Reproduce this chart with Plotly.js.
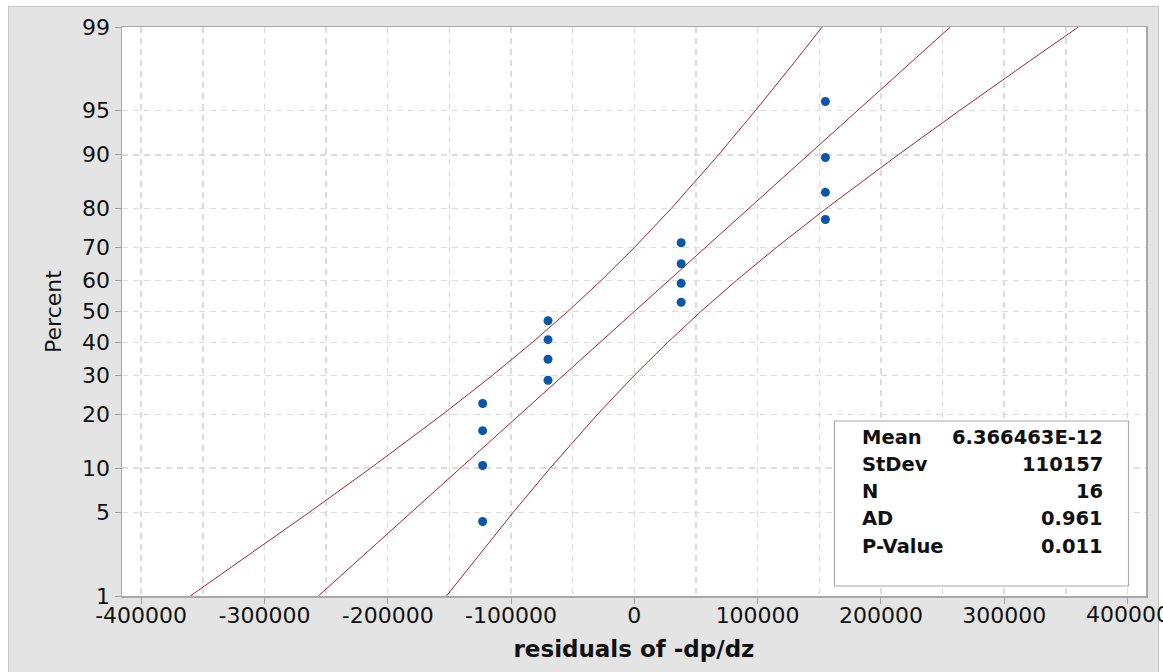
<!DOCTYPE html>
<html>
<head>
<meta charset="utf-8">
<script src="https://cdn.plot.ly/plotly-3.0.1.min.js"></script>
<style>
html,body{margin:0;padding:0;background:#ffffff;}
#frame{position:absolute;left:8px;top:6px;width:1149px;height:670px;background:#e4e4e4;border:1px solid #c6c6c6;border-bottom:none;}
#chart{position:absolute;left:0;top:0;width:1163px;height:672px;}
</style>
</head>
<body>
<div id="frame"></div>
<div id="chart"></div>
<script>
// ---- data ----
var residuals = [-123000,-123000,-123000,-123000,-70000,-70000,-70000,-70000,38000,38000,38000,38000,155000,155000,155000,155000];
var pointPercent = [4.3,10.4,16.5,22.6,28.7,34.8,40.9,47.0,53.0,59.1,65.2,71.3,77.4,83.5,89.6,95.7];

var curvePercent = [1,2,5,10,20,30,40,50,60,70,80,90,95,98,99];
var fitX   = [-256260,-226230,-181190,-141170,-92710,-57770,-27905,0,27905,57770,92710,141170,181190,226230,256260];
var leftCI = [-360170,-321400,-263990,-214010,-155520,-115340,-82740,-53980,-26930,200,29900,68330,98400,131060,152350];
var rightCI= [-152350,-131060,-98400,-68330,-29900,-200,26930,53980,82740,115340,155520,214010,263990,321400,360170];

var yTickPercent = [1,5,10,20,30,40,50,60,70,80,90,95,99];
var yTickText = ["1","5","10","20","30","40","50","60","70","80","90","95","99"];
var xTickVals = [-400000,-300000,-200000,-100000,0,100000,200000,300000,400000];
var xTickText = ["-400000","-300000","-200000","-100000","0","100000","200000","300000","400000"];

var statLabels = ["Mean","StDev","N","AD","P-Value"];
var statValues = ["6.366463E-12","110157","16","0.961","0.011"];

// ---- normal probability scale (inverse normal CDF, Acklam) ----
function probit(p){
  var a=[-3.969683028665376e+01,2.209460984245205e+02,-2.759285104469687e+02,1.383577518672690e+02,-3.066479806614716e+01,2.506628277459239e+00];
  var b=[-5.447609879822406e+01,1.615858368580409e+02,-1.556989798598866e+02,6.680131188771972e+01,-1.328068155288572e+01];
  var c=[-7.784894002430293e-03,-3.223964580411365e-01,-2.400758277161838e+00,-2.549732539343734e+00,4.374664141464968e+00,2.938163982698783e+00];
  var d=[7.784695709041462e-03,3.224671290700398e-01,2.445134137142996e+00,3.754408661907416e+00];
  var pl=0.02425, q, r;
  if(p<pl){q=Math.sqrt(-2*Math.log(p));return (((((c[0]*q+c[1])*q+c[2])*q+c[3])*q+c[4])*q+c[5])/((((d[0]*q+d[1])*q+d[2])*q+d[3])*q+1);}
  if(p>1-pl){q=Math.sqrt(-2*Math.log(1-p));return -(((((c[0]*q+c[1])*q+c[2])*q+c[3])*q+c[4])*q+c[5])/((((d[0]*q+d[1])*q+d[2])*q+d[3])*q+1);}
  q=p-0.5;r=q*q;
  return (((((a[0]*r+a[1])*r+a[2])*r+a[3])*r+a[4])*r+a[5])*q/(((((b[0]*r+b[1])*r+b[2])*r+b[3])*r+b[4])*r+1);
}
function z(arr){return arr.map(function(v){return probit(v/100);});}

var lineColor = "#a3262b";
var traces = [
  {x:leftCI, y:z(curvePercent), mode:"lines", line:{color:lineColor,width:1}, hoverinfo:"skip"},
  {x:fitX,   y:z(curvePercent), mode:"lines", line:{color:lineColor,width:1}, hoverinfo:"skip"},
  {x:rightCI,y:z(curvePercent), mode:"lines", line:{color:lineColor,width:1}, hoverinfo:"skip"},
  {x:residuals, y:z(pointPercent), mode:"markers", marker:{color:"#0a56a8",size:9}}
];

// pixel -> paper helpers (plot area 122..1146 x 27..596)
var L=122,R=1146,T=27,B=596;
function px(x){return (x-L)/(R-L);}
function py(y){return (B-y)/(B-T);}

var font = "'DejaVu Sans', sans-serif";
var rowY = [437,464,491,518,546];
var annotations = [];
for (var i=0;i<statLabels.length;i++){
  annotations.push({xref:"paper",yref:"paper",x:px(860),y:py(rowY[i]),xanchor:"left",yanchor:"middle",showarrow:false,
    text:statLabels[i],font:{family:font,size:19.5,color:"#111",weight:"bold"}});
  annotations.push({xref:"paper",yref:"paper",x:px(1105),y:py(rowY[i]),xanchor:"right",yanchor:"middle",showarrow:false,
    text:statValues[i],font:{family:font,size:19.5,color:"#111",weight:"bold"}});
}
// last x tick label runs past the right edge in the reference; Plotly drops it, so draw it explicitly
annotations.push({xref:"x",yref:"paper",x:xTickVals[xTickVals.length-1],y:0,yshift:-4,xanchor:"center",yanchor:"top",showarrow:false,
  text:xTickText[xTickText.length-1],font:{family:font,size:22,color:"#111"}});

var layout = {
  width:1163, height:672,
  margin:{l:L, r:1163-R, t:T, b:672-B, pad:0},
  paper_bgcolor:"rgba(0,0,0,0)",
  plot_bgcolor:"#ffffff",
  showlegend:false,
  font:{family:font,color:"#111"},
  xaxis:{
    range:[-415500,415000], zeroline:false,
    tickmode:"array", tickvals:xTickVals, ticktext:xTickText,
    ticks:"outside", ticklen:6, tickcolor:"#a0a0a0", tickwidth:1,
    showline:true, linecolor:"#a8a8a8", linewidth:1.5, mirror:true,
    showgrid:true, gridcolor:"#dcdcdc", gridwidth:1.5, griddash:"6px,5px",
    minor:{dtick:50000, tick0:0, showgrid:true, gridcolor:"#dcdcdc", gridwidth:1.5, griddash:"6px,5px", ticks:""},
    tickfont:{family:font,size:22,color:"#111"}, ticklabelstandoff:-7,
    title:{text:"residuals of -dp/dz", font:{family:font,size:23,color:"#111",weight:"bold"}, standoff:14}
  },
  yaxis:{
    range:[probit(0.01),probit(0.99)], zeroline:false,
    tickmode:"array", tickvals:z(yTickPercent), ticktext:yTickText,
    ticks:"outside", ticklen:6, tickcolor:"#a0a0a0", tickwidth:1,
    showline:true, linecolor:"#a8a8a8", linewidth:1.5, mirror:true,
    showgrid:true, gridcolor:"#dcdcdc", gridwidth:1.5, griddash:"6px,5px",
    tickfont:{family:font,size:22,color:"#111"}, ticklabelstandoff:0,
    title:{text:"Percent", font:{family:font,size:22,color:"#111"}, standoff:14}
  },
  shapes:[
    {type:"rect", xref:"paper", yref:"paper", x0:px(834.5), x1:px(1128.5), y0:py(586), y1:py(421),
     fillcolor:"#ffffff", line:{color:"#a8a8a8", width:1.2}, layer:"above"}
  ],
  annotations:annotations
};

Plotly.newPlot("chart", traces, layout, {displayModeBar:false, staticPlot:true});
</script>
</body>
</html>
